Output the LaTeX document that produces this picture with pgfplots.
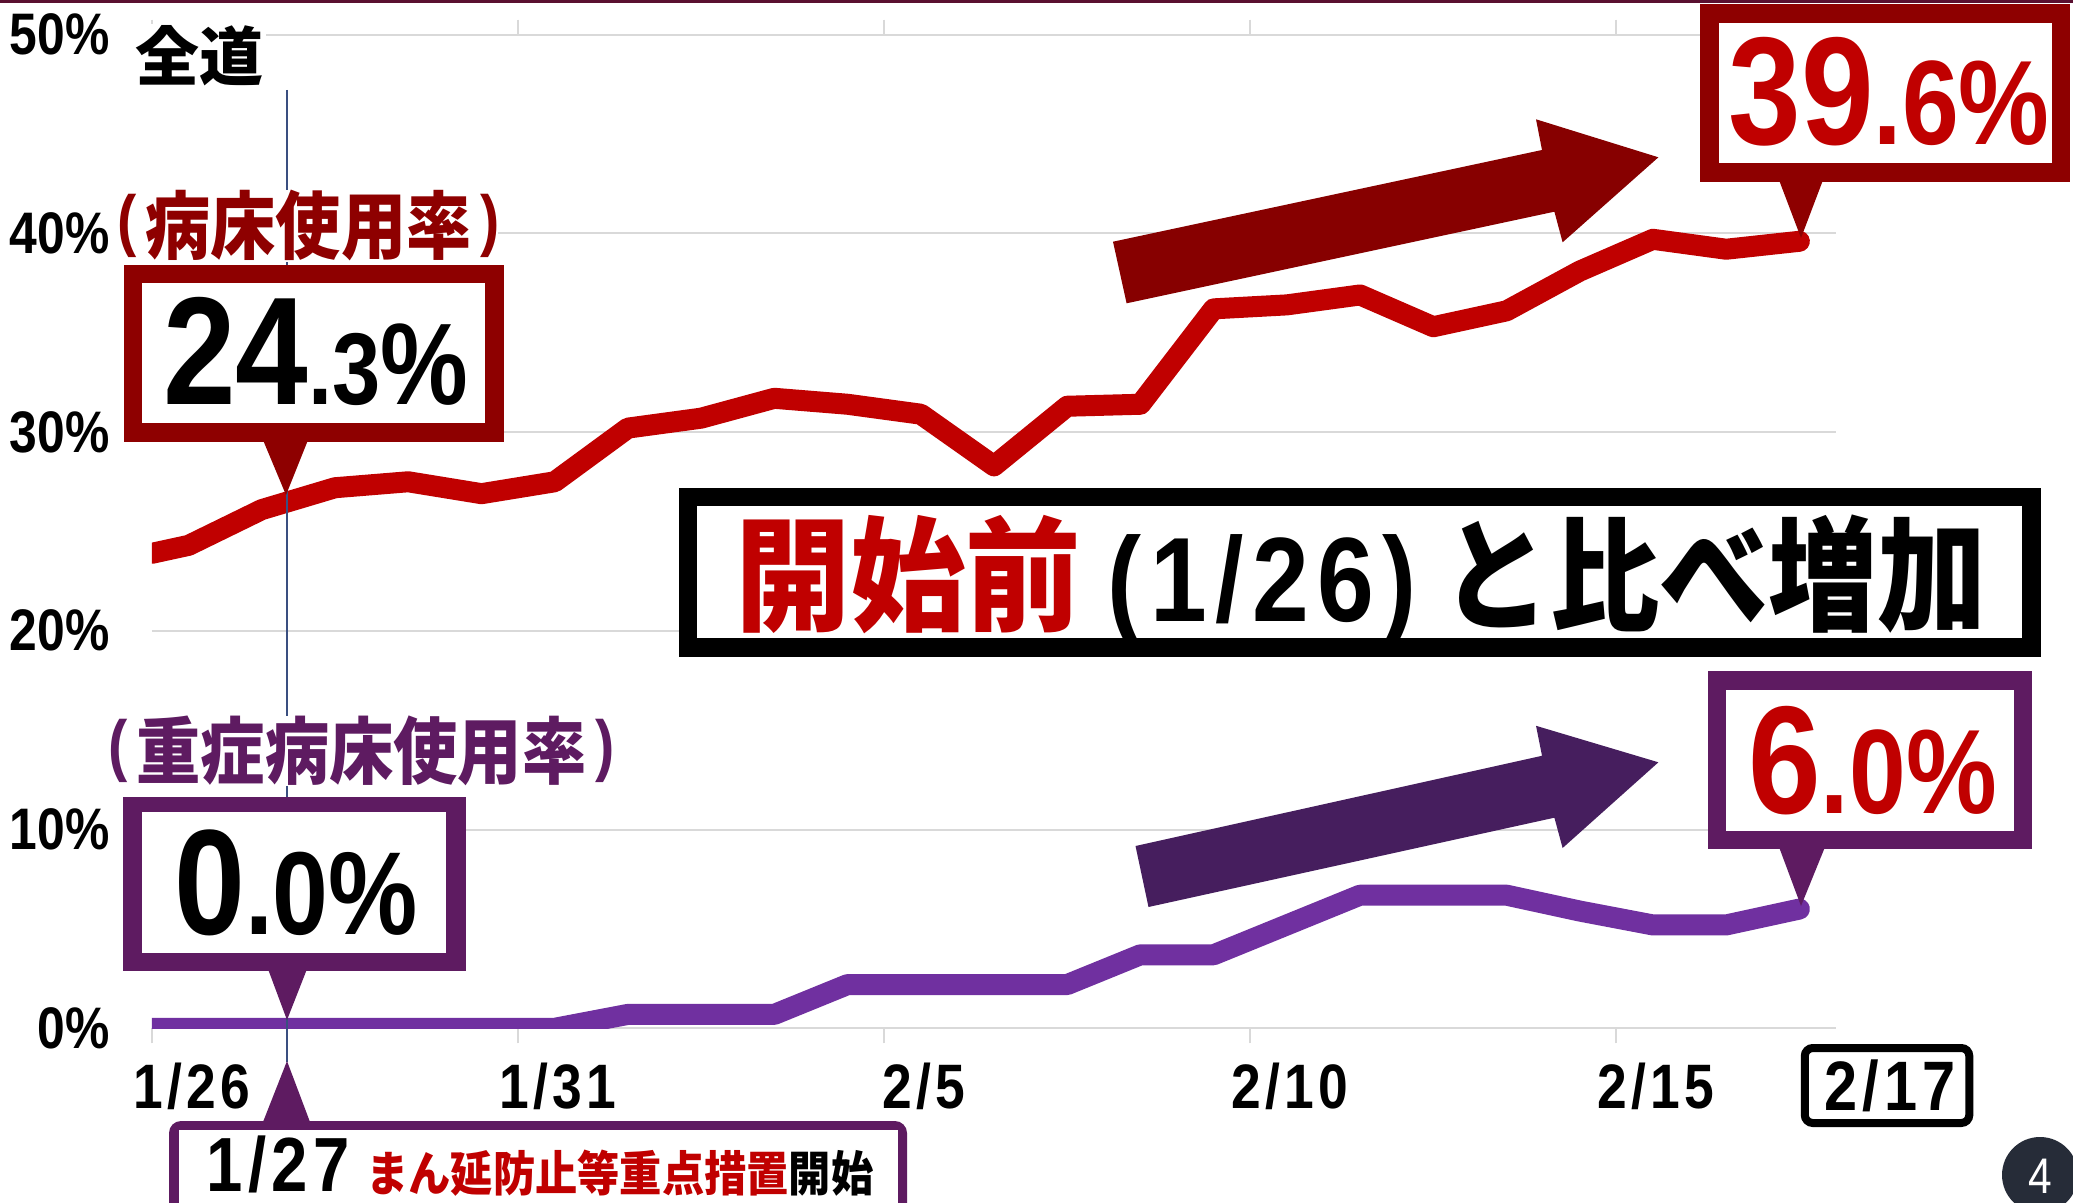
\documentclass[border=0pt]{standalone}
\usepackage{fontspec}
\usepackage{pgfplots}
\pgfplotsset{compat=1.18}
\setmainfont{Liberation Sans}
\newfontfamily\numf[FakeStretch=0.85]{Liberation Sans}
\newfontfamily\numfx[FakeStretch=0.85,LetterSpace=7]{Liberation Sans}
\newfontfamily\cjk{Noto Sans CJK JP}
\newfontfamily\cjkn[FakeStretch=0.88]{Noto Sans CJK JP}
\newfontfamily\cjkm[FakeStretch=0.93]{Noto Sans CJK JP}
\newcommand\fs[1]{\fontsize{#1}{#1}\selectfont}
\newcommand\lp{\raisebox{5pt}{\numf\bfseries\fs{34pt}(}\hspace{4.5pt}}
\newcommand\rp{\hspace{4.5pt}\raisebox{5pt}{\numf\bfseries\fs{34pt})}}
\definecolor{redline}{HTML}{C00000}
\definecolor{purpline}{HTML}{7030A0}
\definecolor{dred}{HTML}{8E0000}
\definecolor{darrow}{HTML}{870000}
\definecolor{dpurp}{HTML}{5E1B61}
\definecolor{parrow}{HTML}{461E5E}
\definecolor{gridgray}{HTML}{D9D9D9}
\definecolor{navy}{HTML}{3A4F80}
\definecolor{topline}{HTML}{5A1030}
\definecolor{badge}{HTML}{262C38}
\begin{document}
\begin{tikzpicture}
\useasboundingbox (0,0) rectangle (1036.5pt,-601.5pt);
\clip (0,0) rectangle (1036.5pt,-601.5pt);
\fill[white] (0,0) rectangle (1036.5pt,-601.5pt);
\begin{axis}[
  at={(76pt,-514.15pt)}, anchor=south west,
  scale only axis, width=842pt, height=496.85pt,
  xmin=-0.5, xmax=22.5, ymin=0, ymax=50,
  axis line style={draw=none},
  ytick={0,10,20,30,40,50},
  yticklabels={0\%,10\%,20\%,30\%,40\%,50\%},
  ymajorgrids, grid style={draw=gridgray, line width=1pt},
  ytick style={draw=none},
  yticklabel style={font=\numf\bfseries\fs{29.3pt}, anchor=east, inner sep=0pt, xshift=-13.5pt},
  xtick={-0.5,4.5,9.5,14.5,19.5}, xticklabels={},
  xtick style={draw=gridgray, line width=1pt},
  tick align=outside, major tick length=7.5pt,
  extra x ticks={0,5,10,15,20},
  extra x tick labels={1/26,1/31,2/5,2/10,2/15},
  extra x tick style={major tick length=0pt, tick align=inside,
     xticklabel style={font=\numfx\bfseries\fs{31.4pt}, anchor=center, inner sep=0pt, yshift=-28.85pt, xshift=1.5pt}},
]
\addplot[redline, line width=10.5pt, line join=round, line cap=round] coordinates {
(-0.5,23.9) (0,24.3) (1,26.1) (2,27.2) (3,27.5) (4,26.9) (5,27.5) (6,30.2) (7,30.7)
(8,31.7) (9,31.4) (10,30.9) (11,28.3) (12,31.3) (13,31.4) (14,36.2) (15,36.4)
(16,36.9) (17,35.3) (18,36.1) (19,38.1) (20,39.7) (21,39.2) (22,39.6)};
\addplot[purpline, line width=10.5pt, line join=round, line cap=round] coordinates {
(-0.5,0) (0,0) (1,0) (2,0) (3,0) (4,0) (5,0) (6,0.7) (7,0.7) (8,0.7) (9,2.2)
(10,2.2) (11,2.2) (12,2.2) (13,3.7) (14,3.7) (15,5.2) (16,6.7) (17,6.7) (18,6.7)
(19,5.9) (20,5.2) (21,5.2) (22,6.0)};
\end{axis}
\begin{scope}[x=0.5pt,y=-0.5pt]
\fill[topline] (0,0) rectangle (2073,3);
% vertical marker line
\draw[navy, line width=0.8pt] (287,90) -- (287,1062);
% arrows
\fill[darrow] (1113,241.7) -- (1542,150) -- (1536,119.3) -- (1658.4,157.3) -- (1562.6,242.3) -- (1554.4,211.7) -- (1126.6,303.3) -- cycle;
\fill[parrow] (1135.5,846) -- (1542,755.8) -- (1536,725.8) -- (1658.4,762.3) -- (1562.6,848) -- (1554.4,817.7) -- (1148.5,907) -- cycle;
% labels
\fill[white] (130,24) rectangle (266,88);
\node[inner sep=0pt, font=\cjk\bfseries\fs{32pt}] at (199,56) {全道};
\fill[white] (148,190) rectangle (498,262);
\node[inner sep=0pt, anchor=west, text=dred, font=\cjkn\bfseries\fs{37pt}] at (117,225) {\lp 病床使用率\rp};
\fill[white] (148,716) rectangle (614,786);
\node[inner sep=0pt, anchor=west, text=dpurp, font=\cjkn\bfseries\fs{36.5pt}] at (108,751) {\lp 重症病床使用率\rp};
% 24.3 box
\fill[dred] (123.7,265) rectangle (503.6,441.7);
\fill[white] (141.5,283.3) rectangle (485.3,423.3);
\fill[dred] (263,440) -- (308,440) -- (286,495) -- cycle;
\node[anchor=base, inner sep=0pt] at (316,405) {\numf\bfseries\fs{76.8pt}24\fs{51pt}.3\fs{58pt}\%};
% 0.0 box
\fill[dpurp] (123,797.4) rectangle (465.6,971);
\fill[white] (141.6,812) rectangle (446.4,952.6);
\fill[dpurp] (268,969) -- (307,969) -- (287,1020) -- cycle;
\node[anchor=base, inner sep=0pt] at (296,934) {\numf\bfseries\fs{75pt}0\fs{59pt}.0\%};
% 39.6 box
\fill[dred] (1699.5,4) rectangle (2070,181.7);
\fill[white] (1718.7,22.7) rectangle (2052,163.3);
\fill[dred] (1779,180) -- (1823,180) -- (1801,238) -- cycle;
\node[anchor=base, inner sep=0pt, text=redline] at (1889,145) {\numf\bfseries\fs{76.8pt}39\fs{60pt}.6\%};
% 6.0 box
\fill[dpurp] (1708.4,671) rectangle (2032,848.8);
\fill[white] (1725.5,689.6) rectangle (2014.4,830.8);
\fill[dpurp] (1779,847) -- (1825,847) -- (1801,906) -- cycle;
\node[anchor=base, inner sep=0pt, text=redline] at (1872.5,813) {\numf\bfseries\fs{76.8pt}6\fs{60pt}.0\%};
% big message box
\fill[black] (679,487.7) rectangle (2041,657.3);
\fill[white] (697,506) rectangle (2022,638.3);
\node[anchor=base, inner sep=0pt, text=redline, font=\cjkm\bfseries\fs{62pt}] at (908,621) {開始前};
\node[anchor=base, inner sep=0pt, font=\numfx\bfseries\fs{60pt}] at (1262,621) {(1/26)};
\node[anchor=base, inner sep=0pt, font=\cjkn\bfseries\fs{62pt}] at (1714,621) {と比べ増加};
% 2/17 box
\draw[black, line width=4pt, rounded corners=4pt] (1804.8,1048) rectangle (1969.3,1123);
\node[font=\numfx\bfseries\fs{35pt}, inner sep=0pt] at (1890,1086) {2/17};
% bottom box
\fill[dpurp, rounded corners=6pt] (169,1121) rectangle (907,1240);
\fill[white] (178.6,1130.4) rectangle (898,1240);
\fill[dpurp] (263,1122) -- (310,1122) -- (287,1061) -- cycle;
\node[anchor=base, inner sep=0pt, font=\numfx\bfseries\fs{38.4pt}] at (278,1191) {1/27};
\node[anchor=base west, inner sep=0pt, font=\cjkn\bfseries\fs{24pt}] at (366,1191) {\textcolor{redline}{まん延防止等重点措置}開始};
% page badge
\fill[badge] (2040,1175) circle (38);
\node[text=white, font=\numf\fs{25pt}, inner sep=0pt] at (2040,1176) {4};
\end{scope}
\end{tikzpicture}
\end{document}
